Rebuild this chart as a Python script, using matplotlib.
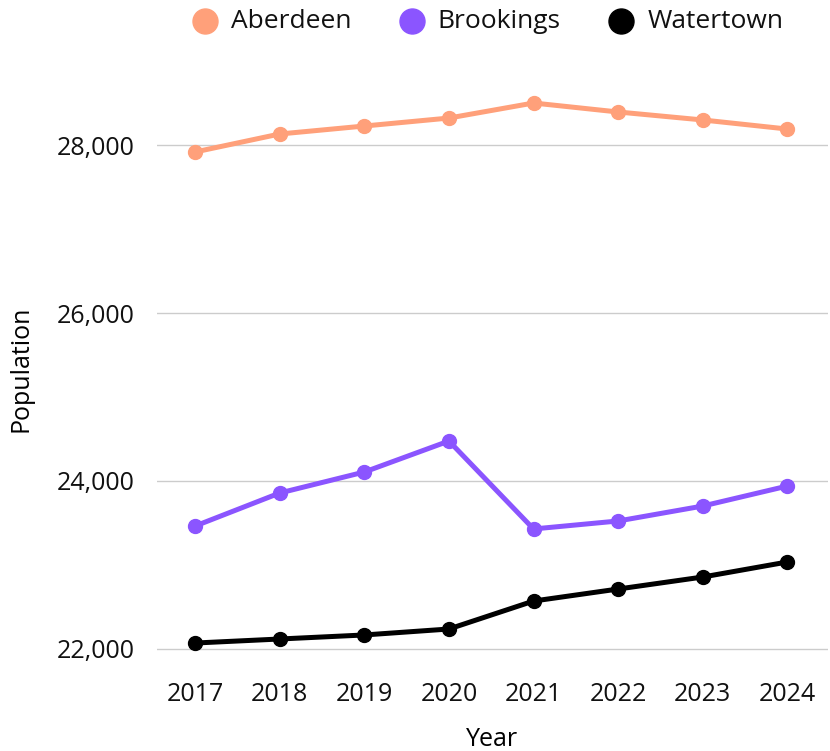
import matplotlib.pyplot as plt
from matplotlib.lines import Line2D
from matplotlib.ticker import FuncFormatter

plt.rcParams['font.family'] = ['Open Sans', 'DejaVu Sans']

years = [2017, 2018, 2019, 2020, 2021, 2022, 2023, 2024]
aberdeen = [27917, 28131, 28226, 28321, 28500, 28393, 28298, 28190]
brookings = [23464, 23857, 24107, 24476, 23429, 23524, 23702, 23940]
watertown = [22071, 22119, 22167, 22238, 22571, 22714, 22857, 23036]

series = [
    ("Aberdeen", aberdeen, "#FFA07A"),
    ("Brookings", brookings, "#8B55FF"),
    ("Watertown", watertown, "#000000"),
]

W, H = 830, 751
fig = plt.figure(figsize=(W / 100, H / 100), dpi=100)
ax = fig.add_axes([157 / W, 1 - 660 / H, 671 / W, 610 / H])

for name, vals, color in series:
    ax.plot(years, vals, color=color, linewidth=3.6, marker="o",
            markersize=10, solid_capstyle="round", zorder=3)

ax.set_xlim(2016.55, 2024.48)
ax.set_ylim(21869, 29131)
ax.set_yticks([22000, 24000, 26000, 28000])
ax.set_xticks(years)
ax.yaxis.set_major_formatter(FuncFormatter(lambda v, p: f"{int(v):,}"))
ax.grid(axis="y", color="#cccccc", linewidth=1)
ax.set_axisbelow(True)
for s in ax.spines.values():
    s.set_visible(False)
ax.tick_params(length=0, labelsize=18, colors="#111111")
ax.tick_params(axis="x", pad=16)
ax.tick_params(axis="y", pad=16)
ax.set_xlabel("Year", fontsize=18, labelpad=14)
ax.set_ylabel("Population", fontsize=18, labelpad=17)
ax.yaxis.label.set_y(0.478)

# legend row across the top, laid out by hand in pixel positions
legend_pos = [(205, 231), (412, 437), (621, 648)]
for (name, _, color), (mx, tx) in zip(series, legend_pos):
    fig.add_artist(Line2D([mx / W], [1 - 21 / H], transform=fig.transFigure,
                          linestyle="none", marker="o", markersize=18,
                          color=color))
    fig.text(tx / W, 1 - 21 / H, name, fontsize=19, va="center",
             ha="left", color="#111111")

fig.savefig("out.png", dpi=100)
